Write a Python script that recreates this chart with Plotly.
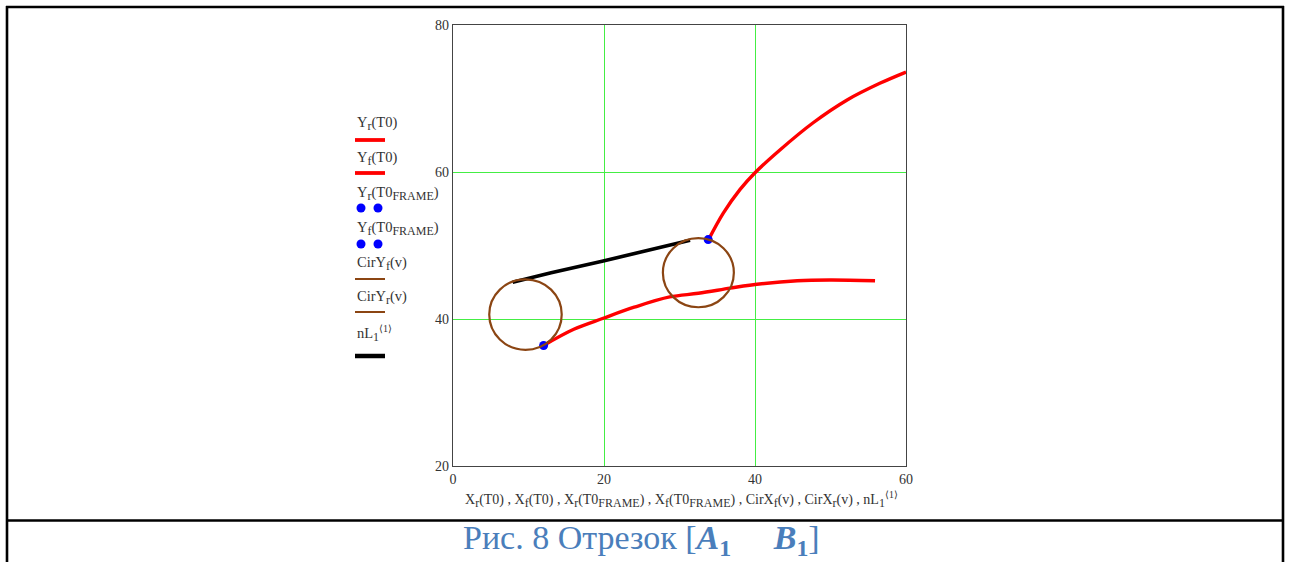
import plotly.graph_objects as go

# ---- data ----
yr_x = [33.8, 35.8, 38.0, 40.0, 43.3, 47.7, 52.2, 56.6, 60.0]
yr_y = [50.7, 54.4, 57.6, 59.9, 63.0, 66.7, 69.8, 72.1, 73.6]

yf_x = [12.0, 16.0, 19.9, 24.0, 28.7, 32.5, 36.7, 39.3, 45.6, 50.0, 55.9]
yf_y = [36.4, 38.6, 40.1, 41.6, 43.0, 43.5, 44.2, 44.6, 45.2, 45.3, 45.2]

frame_r_x = [33.8]
frame_r_y = [50.8]
frame_f_x = [12.0]
frame_f_y = [36.4]

nl_x = [7.9, 13.0, 19.9, 26.0, 31.4]
nl_y = [45.0, 46.3, 47.9, 49.4, 50.7]

cir_cx = [9.6, 32.5]
cir_cy = [40.6, 46.3]
cir_r = [4.8, 4.7]

x_ticks = [0, 20, 40, 60]
y_ticks = [20, 40, 60, 80]

RED = "#ff0000"
BLUE = "#0000ff"
BROWN = "#8b4513"
GREEN = "#44ee44"
FONT = "Liberation Serif"
TXT = "#333333"

W, H = 1291, 562
L, R, T, B = 453, 906, 25, 466


def px(x):
    return (x - L) / (R - L)


def py(y):
    return (B - y) / (B - T)


def sub(s):
    return '<sub><span style="font-size:12px">' + s + '</span></sub>'


fig = go.Figure()
fig.add_trace(go.Scatter(x=yr_x, y=yr_y, mode="lines", line=dict(color=RED, width=3.4, shape="spline"), showlegend=False))
fig.add_trace(go.Scatter(x=yf_x, y=yf_y, mode="lines", line=dict(color=RED, width=3.4, shape="spline"), showlegend=False))
fig.add_trace(go.Scatter(x=nl_x, y=nl_y, mode="lines", line=dict(color="black", width=3.6), showlegend=False))
fig.add_trace(go.Scatter(x=frame_r_x, y=frame_r_y, mode="markers", marker=dict(color=BLUE, size=9), showlegend=False))
fig.add_trace(go.Scatter(x=frame_f_x, y=frame_f_y, mode="markers", marker=dict(color=BLUE, size=9), showlegend=False))

shapes = []
for cx, cy, r in zip(cir_cx, cir_cy, cir_r):
    shapes.append(dict(type="circle", xref="x", yref="y", x0=cx - r, x1=cx + r, y0=cy - r, y1=cy + r,
                       line=dict(color=BROWN, width=2.2), layer="above"))

# page table borders
bw = 2.6
shapes.append(dict(type="line", xref="paper", yref="paper", x0=px(7), x1=px(7), y0=py(6), y1=py(570), line=dict(color="black", width=bw)))
shapes.append(dict(type="line", xref="paper", yref="paper", x0=px(1283), x1=px(1283), y0=py(6), y1=py(570), line=dict(color="black", width=bw)))
shapes.append(dict(type="line", xref="paper", yref="paper", x0=px(6), x1=px(1284), y0=py(7), y1=py(7), line=dict(color="black", width=bw)))
shapes.append(dict(type="line", xref="paper", yref="paper", x0=px(6), x1=px(1284), y0=py(520.5), y1=py(520.5), line=dict(color="black", width=bw)))

# legend (Mathcad style: label above sample)
legend_items = [
    ("Y" + sub("r") + "(T0)", 123, "line", RED, 3.8),
    ("Y" + sub("f") + "(T0)", 158, "line", RED, 3.8),
    ("Y" + sub("r") + "(T0" + sub("FRAME") + ")", 193, "dots", BLUE, 0),
    ("Y" + sub("f") + "(T0" + sub("FRAME") + ")", 228, "dots", BLUE, 0),
    ("CirY" + sub("f") + "(v)", 263, "line", BROWN, 2),
    ("CirY" + sub("r") + "(v)", 297, "line", BROWN, 2),
    ("nL" + sub("1") + "<sup>⟨1⟩</sup>", 333, "line", "black", 4.5),
]
sample_y = [140, 173, 208, 244, 279, 312, 356]
annotations = []
for (txt, ty, kind, col, w), sy in zip(legend_items, sample_y):
    annotations.append(dict(text=txt, xref="paper", yref="paper", x=px(355), y=py(ty), xanchor="left", yanchor="middle",
                            showarrow=False, font=dict(family=FONT, size=14.5, color=TXT)))
    if kind == "line":
        shapes.append(dict(type="line", xref="paper", yref="paper", x0=px(355), x1=px(385), y0=py(sy), y1=py(sy),
                           line=dict(color=col, width=w)))
    else:
        for dx in (361, 378):
            shapes.append(dict(type="circle", xref="paper", yref="paper", x0=px(dx - 4.5), x1=px(dx + 4.5),
                               y0=py(sy + 4.5), y1=py(sy - 4.5), fillcolor=col, line=dict(color=col, width=0)))

annotations.append(dict(
    text="X" + sub("r") + "(T0) , X" + sub("f") + "(T0) , X" + sub("r") + "(T0" + sub("FRAME") + ") , X" + sub("f")
         + "(T0" + sub("FRAME") + ") , CirX" + sub("f") + "(v) , CirX" + sub("r") + "(v) , nL" + sub("1") + "<sup>⟨1⟩</sup>",
    xref="paper", yref="paper", x=px(681), y=py(499), xanchor="center", yanchor="middle", showarrow=False,
    font=dict(family=FONT, size=14, color=TXT)))

annotations.append(dict(
    text="Рис. 8 Отрезок [<b><i>A</i><sub>1</sub></b>     <b><i>B</i><sub>1</sub></b>]",
    xref="paper", yref="paper", x=px(641), y=py(540), xanchor="center", yanchor="middle", showarrow=False,
    font=dict(family=FONT, size=34, color="#4a7ebb")))

fig.update_layout(
    width=W, height=H,
    margin=dict(l=L, r=W - R, t=T, b=H - B),
    paper_bgcolor="white", plot_bgcolor="white",
    shapes=shapes, annotations=annotations,
    showlegend=False,
    xaxis=dict(range=[0, 60], tickvals=x_ticks, showgrid=True, gridcolor=GREEN, gridwidth=1, zeroline=False,
               showline=True, linecolor="#444", linewidth=1.3, mirror=True, ticks="",
               tickfont=dict(family=FONT, size=14, color=TXT)),
    yaxis=dict(range=[20, 80], tickvals=y_ticks, showgrid=True, gridcolor=GREEN, gridwidth=1, zeroline=False,
               showline=True, linecolor="#444", linewidth=1.3, mirror=True, ticks="",
               tickfont=dict(family=FONT, size=14, color=TXT)),
)

fig.write_html("out.html")
